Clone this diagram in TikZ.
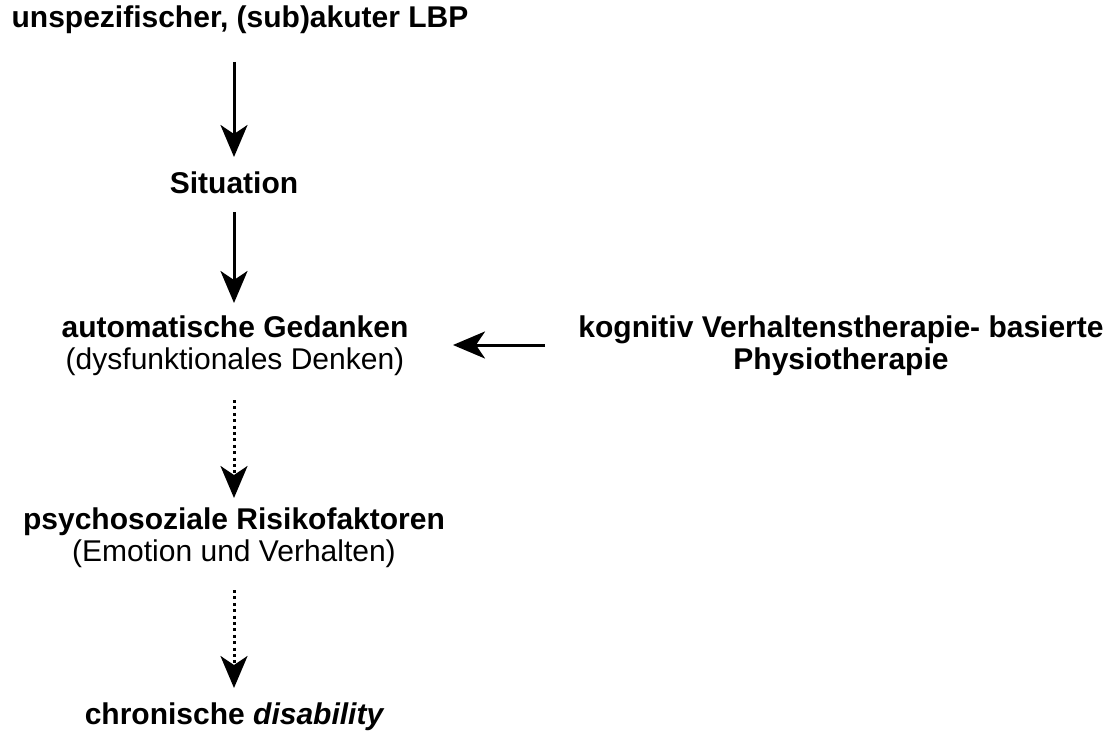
\documentclass[tikz,border=0pt]{standalone}
\usepackage{fontspec}
\setmainfont{Liberation Sans}
\usetikzlibrary{arrows.meta}
\begin{document}
\begin{tikzpicture}[x=1pt,y=-1pt,
  lbl/.style={font=\fontsize{30}{32}\selectfont, align=center, inner sep=0pt},
  arr/.style={line width=3pt, -{Stealth[length=32pt,width=27pt,inset=9pt]}},
  darr/.style={line width=3pt, dash pattern=on 3pt off 3.4pt, -{Stealth[length=32pt,width=27pt,inset=9pt]}}]
\useasboundingbox (0,0) rectangle (1110,733);
\node[lbl] (lbp) at (240,20) {\bfseries unspezifischer, (sub)akuter LBP};
\node[lbl] (sit) at (234,183) {\bfseries Situation};
\node[lbl] (ged) at (235,346) {\bfseries automatische Gedanken\\(dysfunktionales Denken)};
\node[lbl] (kvt) at (841,346) {\bfseries kognitiv Verhaltenstherapie- basierte\\\bfseries Physiotherapie};
\node[lbl] (psy) at (234,538) {\bfseries psychosoziale Risikofaktoren\\(Emotion und Verhalten)};
\node[lbl] (chr) at (234,717) {\bfseries chronische \itshape disability};
\coordinate (a1s) at (234,62); \coordinate (a1e) at (234,157);
\coordinate (a2s) at (234,212); \coordinate (a2e) at (234,303);
\coordinate (a3s) at (545,345); \coordinate (a3e) at (453,345);
\coordinate (a4s) at (234,400); \coordinate (a4e) at (234,498);
\coordinate (a5s) at (234,590); \coordinate (a5e) at (234,688);
\draw[arr] (a1s) -- (a1e);
\draw[arr] (a2s) -- (a2e);
\draw[arr] (a3s) -- (a3e);
\draw[darr] (a4s) -- (a4e);
\draw[darr] (a5s) -- (a5e);
\end{tikzpicture}
\end{document}
